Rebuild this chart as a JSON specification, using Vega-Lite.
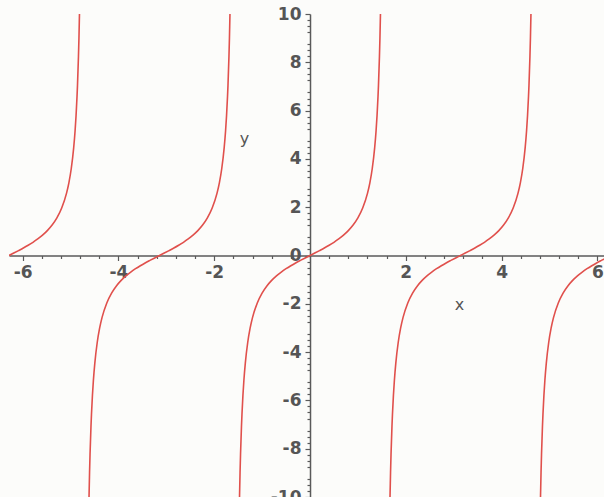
{
  "$schema": "https://vega.github.io/schema/vega-lite/v6.json",
  "width": 595,
  "height": 483,
  "autosize": "none",
  "padding": {"left": 9, "top": 14, "right": 0, "bottom": 0},
  "background": "#fcfcfa",
  "config": {
    "view": {"stroke": null},
    "axis": {
      "grid": false,
      "domainColor": "#5a5a5a",
      "domainWidth": 1.5,
      "tickColor": "#5a5a5a",
      "tickWidth": 1.2,
      "labelColor": "#555555",
      "labelFont": "DejaVu Sans",
      "labelFontSize": 17,
      "labelFontWeight": "bold",
      "labelExpr": "replace(datum.label, '−', '-')",
      "titleColor": "#555555",
      "titleFont": "DejaVu Sans",
      "titleFontSize": 16,
      "titleFontWeight": "normal"
    }
  },
  "data": {
    "values": [
      {"b": "A", "x": -6.2832, "y": 0},
      {"b": "A", "x": -6.1832, "y": 0.1},
      {"b": "A", "x": -6.0832, "y": 0.203},
      {"b": "A", "x": -5.9832, "y": 0.309},
      {"b": "A", "x": -5.8832, "y": 0.423},
      {"b": "A", "x": -5.7832, "y": 0.546},
      {"b": "A", "x": -5.6832, "y": 0.684},
      {"b": "A", "x": -5.5832, "y": 0.842},
      {"b": "A", "x": -5.4832, "y": 1.03},
      {"b": "A", "x": -5.3832, "y": 1.26},
      {"b": "A", "x": -5.2832, "y": 1.557},
      {"b": "A", "x": -5.1832, "y": 1.965},
      {"b": "A", "x": -5.0832, "y": 2.572},
      {"b": "A", "x": -5.0332, "y": 3.01},
      {"b": "A", "x": -4.9832, "y": 3.602},
      {"b": "A", "x": -4.9332, "y": 4.455},
      {"b": "A", "x": -4.9032, "y": 5.177},
      {"b": "A", "x": -4.8832, "y": 5.798},
      {"b": "A", "x": -4.8632, "y": 6.581},
      {"b": "A", "x": -4.8532, "y": 7.056},
      {"b": "A", "x": -4.8332, "y": 8.238},
      {"b": "A", "x": -4.8232, "y": 8.989},
      {"b": "A", "x": -4.8121, "y": 10},

      {"b": "B", "x": -4.6127, "y": -10},
      {"b": "B", "x": -4.6016, "y": -8.989},
      {"b": "B", "x": -4.5916, "y": -8.238},
      {"b": "B", "x": -4.5716, "y": -7.056},
      {"b": "B", "x": -4.5616, "y": -6.581},
      {"b": "B", "x": -4.5416, "y": -5.798},
      {"b": "B", "x": -4.5216, "y": -5.177},
      {"b": "B", "x": -4.4916, "y": -4.455},
      {"b": "B", "x": -4.4416, "y": -3.602},
      {"b": "B", "x": -4.3916, "y": -3.01},
      {"b": "B", "x": -4.3416, "y": -2.572},
      {"b": "B", "x": -4.2416, "y": -1.965},
      {"b": "B", "x": -4.1416, "y": -1.557},
      {"b": "B", "x": -4.0416, "y": -1.26},
      {"b": "B", "x": -3.9416, "y": -1.03},
      {"b": "B", "x": -3.8416, "y": -0.842},
      {"b": "B", "x": -3.7416, "y": -0.684},
      {"b": "B", "x": -3.6416, "y": -0.546},
      {"b": "B", "x": -3.5416, "y": -0.423},
      {"b": "B", "x": -3.4416, "y": -0.309},
      {"b": "B", "x": -3.3416, "y": -0.203},
      {"b": "B", "x": -3.2416, "y": -0.1},
      {"b": "B", "x": -3.1416, "y": 0},
      {"b": "B", "x": -3.0416, "y": 0.1},
      {"b": "B", "x": -2.9416, "y": 0.203},
      {"b": "B", "x": -2.8416, "y": 0.309},
      {"b": "B", "x": -2.7416, "y": 0.423},
      {"b": "B", "x": -2.6416, "y": 0.546},
      {"b": "B", "x": -2.5416, "y": 0.684},
      {"b": "B", "x": -2.4416, "y": 0.842},
      {"b": "B", "x": -2.3416, "y": 1.03},
      {"b": "B", "x": -2.2416, "y": 1.26},
      {"b": "B", "x": -2.1416, "y": 1.557},
      {"b": "B", "x": -2.0416, "y": 1.965},
      {"b": "B", "x": -1.9416, "y": 2.572},
      {"b": "B", "x": -1.8916, "y": 3.01},
      {"b": "B", "x": -1.8416, "y": 3.602},
      {"b": "B", "x": -1.7916, "y": 4.455},
      {"b": "B", "x": -1.7616, "y": 5.177},
      {"b": "B", "x": -1.7416, "y": 5.798},
      {"b": "B", "x": -1.7216, "y": 6.581},
      {"b": "B", "x": -1.7116, "y": 7.056},
      {"b": "B", "x": -1.6916, "y": 8.238},
      {"b": "B", "x": -1.6816, "y": 8.989},
      {"b": "B", "x": -1.6705, "y": 10},

      {"b": "C", "x": -1.4711, "y": -10},
      {"b": "C", "x": -1.46, "y": -8.989},
      {"b": "C", "x": -1.45, "y": -8.238},
      {"b": "C", "x": -1.43, "y": -7.056},
      {"b": "C", "x": -1.42, "y": -6.581},
      {"b": "C", "x": -1.4, "y": -5.798},
      {"b": "C", "x": -1.38, "y": -5.177},
      {"b": "C", "x": -1.35, "y": -4.455},
      {"b": "C", "x": -1.3, "y": -3.602},
      {"b": "C", "x": -1.25, "y": -3.01},
      {"b": "C", "x": -1.2, "y": -2.572},
      {"b": "C", "x": -1.1, "y": -1.965},
      {"b": "C", "x": -1.0, "y": -1.557},
      {"b": "C", "x": -0.9, "y": -1.26},
      {"b": "C", "x": -0.8, "y": -1.03},
      {"b": "C", "x": -0.7, "y": -0.842},
      {"b": "C", "x": -0.6, "y": -0.684},
      {"b": "C", "x": -0.5, "y": -0.546},
      {"b": "C", "x": -0.4, "y": -0.423},
      {"b": "C", "x": -0.3, "y": -0.309},
      {"b": "C", "x": -0.2, "y": -0.203},
      {"b": "C", "x": -0.1, "y": -0.1},
      {"b": "C", "x": 0, "y": 0},
      {"b": "C", "x": 0.1, "y": 0.1},
      {"b": "C", "x": 0.2, "y": 0.203},
      {"b": "C", "x": 0.3, "y": 0.309},
      {"b": "C", "x": 0.4, "y": 0.423},
      {"b": "C", "x": 0.5, "y": 0.546},
      {"b": "C", "x": 0.6, "y": 0.684},
      {"b": "C", "x": 0.7, "y": 0.842},
      {"b": "C", "x": 0.8, "y": 1.03},
      {"b": "C", "x": 0.9, "y": 1.26},
      {"b": "C", "x": 1.0, "y": 1.557},
      {"b": "C", "x": 1.1, "y": 1.965},
      {"b": "C", "x": 1.2, "y": 2.572},
      {"b": "C", "x": 1.25, "y": 3.01},
      {"b": "C", "x": 1.3, "y": 3.602},
      {"b": "C", "x": 1.35, "y": 4.455},
      {"b": "C", "x": 1.38, "y": 5.177},
      {"b": "C", "x": 1.4, "y": 5.798},
      {"b": "C", "x": 1.42, "y": 6.581},
      {"b": "C", "x": 1.43, "y": 7.056},
      {"b": "C", "x": 1.45, "y": 8.238},
      {"b": "C", "x": 1.46, "y": 8.989},
      {"b": "C", "x": 1.4711, "y": 10},

      {"b": "D", "x": 1.6705, "y": -10},
      {"b": "D", "x": 1.6816, "y": -8.989},
      {"b": "D", "x": 1.6916, "y": -8.238},
      {"b": "D", "x": 1.7116, "y": -7.056},
      {"b": "D", "x": 1.7216, "y": -6.581},
      {"b": "D", "x": 1.7416, "y": -5.798},
      {"b": "D", "x": 1.7616, "y": -5.177},
      {"b": "D", "x": 1.7916, "y": -4.455},
      {"b": "D", "x": 1.8416, "y": -3.602},
      {"b": "D", "x": 1.8916, "y": -3.01},
      {"b": "D", "x": 1.9416, "y": -2.572},
      {"b": "D", "x": 2.0416, "y": -1.965},
      {"b": "D", "x": 2.1416, "y": -1.557},
      {"b": "D", "x": 2.2416, "y": -1.26},
      {"b": "D", "x": 2.3416, "y": -1.03},
      {"b": "D", "x": 2.4416, "y": -0.842},
      {"b": "D", "x": 2.5416, "y": -0.684},
      {"b": "D", "x": 2.6416, "y": -0.546},
      {"b": "D", "x": 2.7416, "y": -0.423},
      {"b": "D", "x": 2.8416, "y": -0.309},
      {"b": "D", "x": 2.9416, "y": -0.203},
      {"b": "D", "x": 3.0416, "y": -0.1},
      {"b": "D", "x": 3.1416, "y": 0},
      {"b": "D", "x": 3.2416, "y": 0.1},
      {"b": "D", "x": 3.3416, "y": 0.203},
      {"b": "D", "x": 3.4416, "y": 0.309},
      {"b": "D", "x": 3.5416, "y": 0.423},
      {"b": "D", "x": 3.6416, "y": 0.546},
      {"b": "D", "x": 3.7416, "y": 0.684},
      {"b": "D", "x": 3.8416, "y": 0.842},
      {"b": "D", "x": 3.9416, "y": 1.03},
      {"b": "D", "x": 4.0416, "y": 1.26},
      {"b": "D", "x": 4.1416, "y": 1.557},
      {"b": "D", "x": 4.2416, "y": 1.965},
      {"b": "D", "x": 4.3416, "y": 2.572},
      {"b": "D", "x": 4.3916, "y": 3.01},
      {"b": "D", "x": 4.4416, "y": 3.602},
      {"b": "D", "x": 4.4916, "y": 4.455},
      {"b": "D", "x": 4.5216, "y": 5.177},
      {"b": "D", "x": 4.5416, "y": 5.798},
      {"b": "D", "x": 4.5616, "y": 6.581},
      {"b": "D", "x": 4.5716, "y": 7.056},
      {"b": "D", "x": 4.5916, "y": 8.238},
      {"b": "D", "x": 4.6016, "y": 8.989},
      {"b": "D", "x": 4.6127, "y": 10},

      {"b": "E", "x": 4.8121, "y": -10},
      {"b": "E", "x": 4.8232, "y": -8.989},
      {"b": "E", "x": 4.8332, "y": -8.238},
      {"b": "E", "x": 4.8532, "y": -7.056},
      {"b": "E", "x": 4.8632, "y": -6.581},
      {"b": "E", "x": 4.8832, "y": -5.798},
      {"b": "E", "x": 4.9032, "y": -5.177},
      {"b": "E", "x": 4.9332, "y": -4.455},
      {"b": "E", "x": 4.9832, "y": -3.602},
      {"b": "E", "x": 5.0332, "y": -3.01},
      {"b": "E", "x": 5.0832, "y": -2.572},
      {"b": "E", "x": 5.1832, "y": -1.965},
      {"b": "E", "x": 5.2832, "y": -1.557},
      {"b": "E", "x": 5.3832, "y": -1.26},
      {"b": "E", "x": 5.4832, "y": -1.03},
      {"b": "E", "x": 5.5832, "y": -0.842},
      {"b": "E", "x": 5.6832, "y": -0.684},
      {"b": "E", "x": 5.7832, "y": -0.546},
      {"b": "E", "x": 5.8832, "y": -0.423},
      {"b": "E", "x": 5.9832, "y": -0.309},
      {"b": "E", "x": 6.0832, "y": -0.203},
      {"b": "E", "x": 6.1832, "y": -0.1},
      {"b": "E", "x": 6.2832, "y": 0}
    ]
  },
  "resolve": {"axis": {"x": "independent", "y": "independent"}},
  "layer": [
    {
      "mark": {"type": "line", "color": "#e0504c", "strokeWidth": 1.6, "clip": true, "interpolate": "monotone"},
      "encoding": {
        "x": {
          "field": "x", "type": "quantitative",
          "scale": {"domain": [-6.2832, 6.1376], "nice": false, "zero": false},
          "axis": {
            "orient": "bottom", "offset": -241.5,
            "values": [-6, -4, -2, 2, 4, 6],
            "tickSize": 5, "labelPadding": 4,
            "title": "x", "titleX": 450, "titleY": 49, "titleAngle": 0,
            "titleAlign": "center", "titleBaseline": "middle"
          }
        },
        "y": {
          "field": "y", "type": "quantitative",
          "scale": {"domain": [-10, 10], "nice": false, "zero": false},
          "axis": {
            "orient": "left", "offset": -301,
            "values": [-10, -8, -6, -4, -2, 0, 2, 4, 6, 8, 10],
            "tickSize": 5, "labelPadding": 4,
            "title": "y", "titleX": -66, "titleY": 124, "titleAngle": 0,
            "titleAlign": "center", "titleBaseline": "middle"
          }
        },
        "detail": {"field": "b", "type": "nominal"}
      }
    },
    {
      "mark": {"type": "line", "strokeOpacity": 0, "clip": true},
      "encoding": {
        "x": {
          "field": "x", "type": "quantitative",
          "axis": {
            "orient": "bottom", "offset": -241.5,
            "values": [-5.6, -5.2, -4.8, -4.4, -3.6, -3.2, -2.8, -2.4, -1.6, -1.2, -0.8, -0.4, 0.4, 0.8, 1.2, 1.6, 2.4, 2.8, 3.2, 3.6, 4.4, 4.8, 5.2, 5.6],
            "tickSize": 3, "labels": false, "domain": false, "title": null
          }
        },
        "y": {
          "field": "y", "type": "quantitative",
          "axis": {
            "orient": "left", "offset": -301,
            "values": [-9.75, -9.5, -9.25, -8.75, -8.5, -8.25, -7.75, -7.5, -7.25, -6.75, -6.5, -6.25, -5.75, -5.5, -5.25, -4.75, -4.5, -4.25, -3.75, -3.5, -3.25, -2.75, -2.5, -2.25, -1.75, -1.5, -1.25, -0.75, -0.5, -0.25, 0.25, 0.5, 0.75, 1.25, 1.5, 1.75, 2.25, 2.5, 2.75, 3.25, 3.5, 3.75, 4.25, 4.5, 4.75, 5.25, 5.5, 5.75, 6.25, 6.5, 6.75, 7.25, 7.5, 7.75, 8.25, 8.5, 8.75, 9.25, 9.5, 9.75],
            "tickSize": 3, "labels": false, "domain": false, "title": null
          }
        },
        "detail": {"field": "b", "type": "nominal"}
      }
    }
  ]
}
